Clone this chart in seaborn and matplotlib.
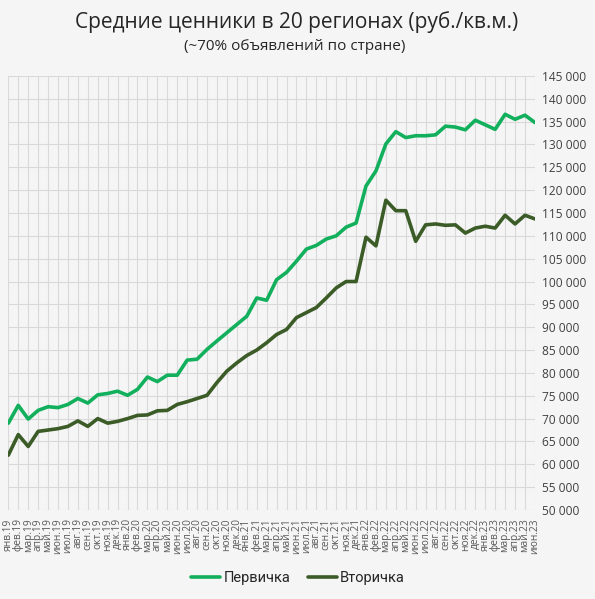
import numpy as np
import pandas as pd
import seaborn as sns
import matplotlib.pyplot as plt
from matplotlib.ticker import FuncFormatter, MultipleLocator

months = ["янв", "фев", "мар", "апр", "май", "июн",
          "июл", "авг", "сен", "окт", "ноя", "дек"]
labels = [f"{m}.{y}" for y in ["19", "20", "21", "22"] for m in months] + \
         [f"{m}.23" for m in months[:6]]

pervichka = [69000, 72900, 69900, 71800, 72600, 72400, 73100, 74400, 73400, 75200,
             75500, 76000, 75100, 76400, 79100, 78100, 79500, 79500, 82800, 83000,
             85150, 87000, 88800, 90600, 92400, 96400, 95900, 100400, 102000, 104450,
             107100, 107900, 109300, 110000, 111900, 112800, 120900, 124200, 130100, 132800,
             131500, 131900, 131900, 132100, 134000, 133800, 133200, 135300, 134300, 133300,
             136600, 135500, 136400, 134800]
vtorichka = [62000, 66500, 63900, 67200, 67500, 67800, 68300, 69500, 68300, 70000,
             69000, 69400, 70000, 70700, 70800, 71700, 71800, 73100, 73700, 74400,
             75100, 77900, 80400, 82200, 83800, 85000, 86600, 88400, 89500, 92100,
             93200, 94300, 96400, 98600, 100000, 100000, 109700, 107800, 117800, 115500,
             115500, 108800, 112400, 112600, 112300, 112400, 110600, 111700, 112100, 111700,
             114500, 112600, 114500, 113700]

df = pd.DataFrame({
    "idx": list(range(len(labels))) * 2,
    "value": pervichka + vtorichka,
    "series": ["Первичка"] * len(labels) + ["Вторичка"] * len(labels),
})

bg = "#f5f5f5"
sns.set_style("white")
plt.rcParams["font.family"] = ["Open Sans", "DejaVu Sans"]

fig = plt.figure(figsize=(5.95, 5.99), dpi=100, facecolor=bg)
ax = fig.add_axes([0.014, 0.1486, 0.885, 0.7247])
ax.set_facecolor(bg)

sns.lineplot(data=df, x="idx", y="value", hue="series",
             palette={"Первичка": "#12b05c", "Вторичка": "#3b5b27"},
             linewidth=2.6, ax=ax, legend=True)

ax.set_xlim(0, len(labels) - 1)
ax.set_ylim(50000, 145000)
ax.set_xticks(range(len(labels)))
ax.set_xticklabels(labels, rotation=90, fontsize=7.3, color="#595959")
ax.yaxis.set_major_locator(MultipleLocator(5000))
ax.yaxis.set_major_formatter(FuncFormatter(lambda v, p: f"{int(v):,}".replace(",", " ")))
ax.yaxis.tick_right()
ax.tick_params(axis="y", labelsize=8.6, labelcolor="#404040", length=0, pad=5)
ax.tick_params(axis="x", length=0, pad=6)
ax.grid(True, color="#d9d9d9", linewidth=0.8)
ax.set_axisbelow(True)
for s in ax.spines.values():
    s.set_visible(False)
ax.set_xlabel("")
ax.set_ylabel("")

handles, lbls = ax.get_legend_handles_labels()
ax.legend(handles, lbls, loc="center", bbox_to_anchor=(298 / 595, 1 - 578 / 599),
          bbox_transform=fig.transFigure, ncol=2, frameon=False, fontsize=10.5,
          handlelength=2.0, handletextpad=0.2, columnspacing=1.2,
          prop={"family": ["Roboto", "DejaVu Sans"], "size": 10.5})

fig.text(297 / 595, 1 - 22 / 599, "Средние ценники в 20 регионах (руб./кв.м.)",
         ha="center", va="center", fontsize=15, color="#262626")
fig.text(295 / 595, 1 - 47 / 599, "(~70% объявлений по стране)",
         ha="center", va="center", fontsize=11, color="#262626")

fig.savefig("out.png", dpi=100, facecolor=bg)
